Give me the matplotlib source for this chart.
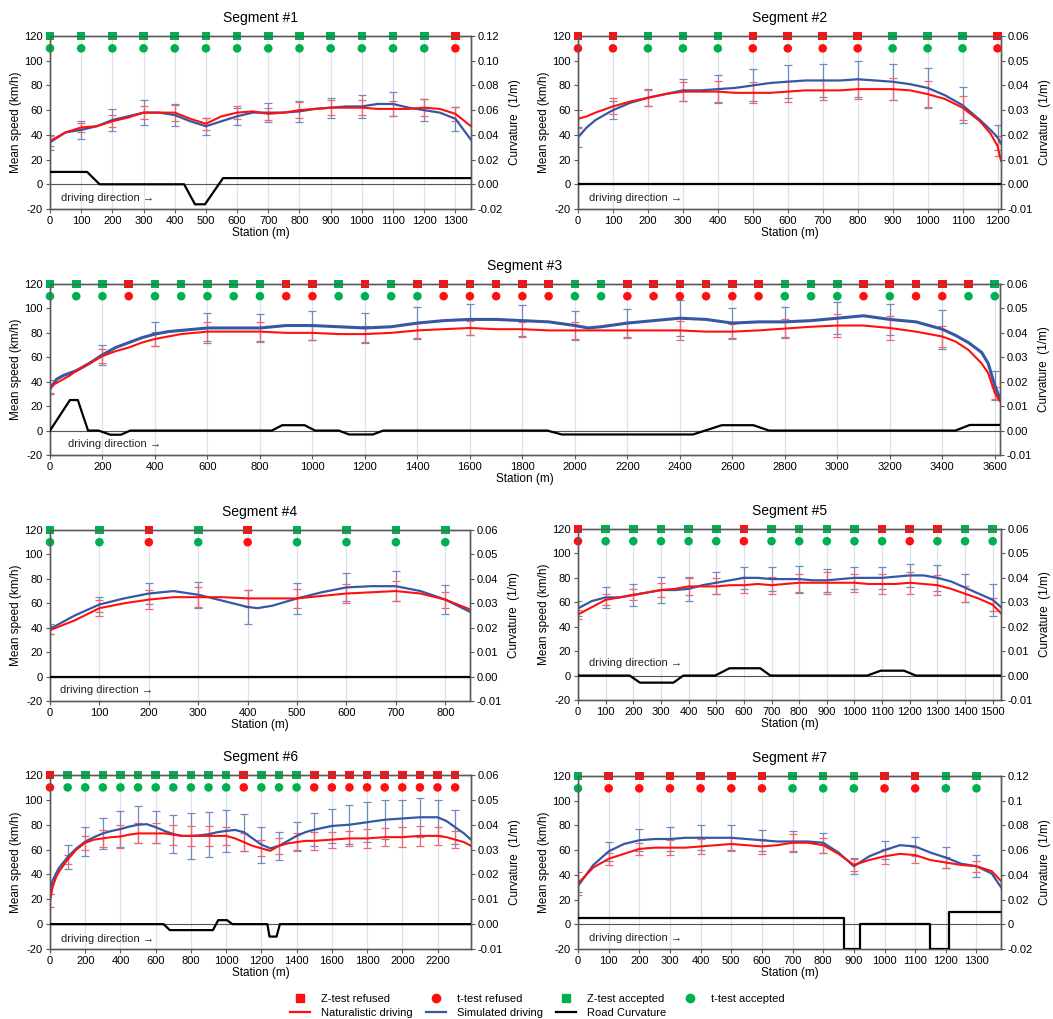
import numpy as np
import matplotlib
matplotlib.use('Agg')
import matplotlib.pyplot as plt
from matplotlib.lines import Line2D

plt.rcParams['font.family'] = ['Liberation Sans', 'DejaVu Sans']
plt.rcParams['axes.unicode_minus'] = False

# ---------------- data ----------------
# Segment 1
seg1_x = list(range(0, 1351, 50))
seg1_nat = [35, 42, 46, 47, 51, 54, 58, 58, 58, 53, 49, 55, 58, 59, 57, 58, 60, 61, 62, 62, 62, 61, 61, 61, 62, 61, 57, 47]
seg1_sim = [34, 42, 44, 47, 52, 55, 58, 58, 56, 51, 47, 51, 55, 58, 58, 58, 59, 61, 62, 63, 63, 65, 65, 62, 60, 58, 53, 36]
seg1_nat_sd = [4, 4, 5, 5.5, 6.5, 5, 5, 5, 6.5, 6, 6, 6, 7, 5.5]
seg1_sim_sd = [6, 7.5, 9, 10, 9, 7, 7, 7.5, 8.5, 8, 9, 9.5, 9, 9.5]
seg1_z = "GGGGGGGGGGGGGR"
seg1_t = "GGGGGGGGGGGGGR"
seg1_cx = [0, 119, 159, 430, 465, 497, 555, 1350]
seg1_cv = [0.01, 0.01, 0, 0, -0.0162, -0.0162, 0.005, 0.005]

# Segment 2
seg2_x = [0, 25, 50, 100, 150, 200, 250, 300, 350, 400, 450, 500, 550, 600, 650, 700, 750, 800, 850, 900, 950, 1000, 1050, 1100, 1150, 1180, 1200, 1210]
seg2_nat = [53, 55, 58, 63, 67, 70, 73, 75, 75, 75, 74, 74, 74, 75, 76, 76, 76, 77, 77, 77, 76, 73, 69, 62, 51, 41, 31, 19]
seg2_sim = [38, 46, 52, 60, 66, 70, 73, 76, 76, 77, 78, 80, 82, 83, 84, 84, 84, 85, 84, 83, 81, 78, 72, 64, 52, 44, 38, 33]
seg2_nat_sd = [7.5, 6.5, 6.5, 8, 8.5, 8.5, 8.5, 8, 8, 8.8, 10.5, 9.7, 8]
seg2_sim_sd = [8, 7, 7, 9, 11.5, 13, 13.5, 13.5, 14.5, 14.4, 16, 14.5, 10]
seg2_z = "RRGGGRRRRGGGR"
seg2_t = "RRGGGRRRRGGGR"
seg2_cx = [0, 1210]
seg2_cv = [0, 0]

# Segment 3
seg3_x = [0, 25, 50, 75, 100, 150, 200, 250, 300, 350, 400, 450, 500,
          600, 700, 800, 900, 1000, 1100, 1200, 1300, 1400, 1500, 1600, 1700, 1800, 1900, 2000,
          2050, 2100, 2200, 2300, 2400, 2500, 2600, 2700, 2800, 2900, 3000, 3100, 3200, 3300, 3400,
          3450, 3500, 3550, 3575, 3600, 3620]
seg3_nat = [36, 39, 42, 45, 49, 55, 61, 65, 68, 72, 75, 77, 79,
            81, 81, 81, 80, 80, 79, 79, 80, 82, 83, 84, 83, 83, 82, 82,
            82, 82, 82, 82, 82, 81, 81, 82, 83.5, 85, 86, 86, 84, 81, 77,
            73, 66, 55, 47, 31, 24]
seg3_sim = [34, 42, 45, 47, 49, 55, 62, 68, 72, 76, 79, 81, 82,
            84, 84, 84, 86, 86, 85, 84, 85, 88, 90, 91, 91, 90, 89, 86,
            84, 85, 88, 90, 92, 91, 88, 89, 89, 90, 92, 94, 91, 89, 83,
            78, 72, 64, 55, 37, 26]
seg3_nat_sd = [5, 5.5, 6, 7.8, 7.5, 6, 6.5, 6, 6, 6, 7, 6.5, 7.5, 6, 8, 9.5, 9.7, 8.5, 5]
seg3_sim_sd = [4, 8, 10, 12.3, 11.5, 11.5, 12.5, 13, 13, 12.5, 12, 11.5, 14.5, 12.5, 12, 13, 13, 16, 12]
seg3_z = "GGGRGGGGGRRGRGRRRRRRGGRRRRRRGGGRRRRRG"
seg3_t = "GGGRGGGGGRRGGGGRRRRRGGRRRRRRGGGRGRRGG"
seg3_cx = [0, 76, 106, 145, 185, 230, 270, 306, 845, 885, 970, 1010, 1100, 1140, 1230, 1270,
           1895, 1950, 2450, 2560, 2680, 2740, 3450, 3505, 3620]
seg3_cv = [0, 0.0125, 0.0125, 0, 0, -0.0017, -0.0017, 0, 0, 0.0022, 0.0022, 0, 0, -0.0016, -0.0016, 0,
           0, -0.0016, -0.0016, 0.0022, 0.0022, 0, 0, 0.0023, 0.0023]

# Segment 4
seg4_x = [0, 50, 100, 150, 200, 250, 300, 350, 400, 420, 450, 500, 550, 600, 650, 700, 750, 800, 850]
seg4_nat = [38, 46, 56, 60, 63, 65, 65, 65, 64, 64, 64, 64, 66, 68, 69, 70, 68, 63, 55]
seg4_sim = [39, 50, 59, 64, 68, 70, 67, 62, 57, 56, 58, 64, 69, 73, 74, 74, 70, 63, 53]
seg4_nat_sd = [3, 6.5, 8, 8, 7, 7.5, 7.5, 8, 6.5]
seg4_sim_sd = [4, 6.5, 8.5, 10.5, 14, 12.5, 11.5, 12.5, 12]
seg4_z = "GGRGRGGGG"
seg4_t = "GGRGRGGGG"
seg4_cx = [0, 850]
seg4_cv = [0, 0]

# Segment 5
seg5_x = list(range(0, 1501, 50)) + [1530]
seg5_nat = [50, 56, 62, 64, 66, 68, 70, 71, 73, 73, 73, 74, 74, 75, 74, 75, 76, 76, 76, 76, 76, 75, 75, 75, 76, 75, 74, 71, 67, 63, 58, 51]
seg5_sim = [55, 61, 64, 64, 66, 68, 70, 70, 71, 74, 76, 78, 80, 80, 79, 79, 79, 78, 78, 79, 80, 80, 80, 81, 82, 82, 80, 77, 72, 67, 62, 56]
seg5_nat_sd = [4, 4.5, 4.5, 6, 7, 6.5, 6.5, 7, 7.5, 9, 7.5, 8, 9, 8, 6.5, 5.5]
seg5_sim_sd = [6, 8.5, 9, 10.5, 10, 9, 9, 9.5, 11, 9.5, 9, 9, 9.5, 10.5, 11.5, 13]
seg5_z = "RGGGGGRGGGGRRRGG"
seg5_t = "RGGGGGRGGGGGRGGG"
seg5_cx = [0, 187, 224, 345, 381, 496, 548, 659, 696, 1046, 1095, 1179, 1222, 1530]
seg5_cv = [0, 0, -0.0029, -0.0029, 0, 0, 0.003, 0.003, 0, 0, 0.002, 0.002, 0, 0]

# Segment 6
seg6_x = [0, 15, 35] + list(range(50, 1501, 50)) + list(range(1600, 2201, 100)) + [2250, 2300, 2350, 2390]
seg6_nat = [19, 30, 38,
            42, 52, 60, 65.5, 68, 69, 70, 70.5, 72, 73, 73, 73, 73, 72, 71, 71, 71, 71, 71, 71, 69, 66, 63, 61, 59, 63, 65, 66, 67, 67,
            68, 69, 69, 70, 70, 71, 71,
            70, 68, 66, 63]
seg6_sim = [28, 35, 41,
            45, 54, 61, 66.4, 70, 73, 75, 76.5, 78.5, 80, 80.4, 78, 75, 72.5, 71, 71, 71.5, 72.3, 74, 75, 75.8, 74, 69, 64, 61, 63, 67, 71, 74, 76,
            79, 80, 82, 84, 85, 86, 86,
            83, 78, 73, 68]
seg6_nat_sd = [5, 3.3, 5.5, 7, 9, 8, 8, 8, 8, 8, 7, 7, 6.5, 6.5, 7, 7.5, 6.5, 6, 7.5, 7.5, 8, 8, 7, 7]
seg6_sim_sd = [4, 10, 11.5, 12.7, 14.4, 14.8, 13, 15, 18.4, 18, 17, 15, 14.5, 11.5, 11, 13.5, 14, 15.5, 16, 15.5, 15, 15.5, 14, 13.5]
seg6_z = "RGGGGGGGGGGRGGGRRRRRRRRR"
seg6_t = "RGGGGGGGGGGRGGGRRRRRRRRR"
seg6_cx = [0, 645, 680, 925, 955, 1005, 1035, 1234, 1246, 1286, 1305, 2390]
seg6_cv = [0, 0, -0.0024, -0.0024, 0.0016, 0.0016, 0, 0, -0.005, -0.005, 0, 0]

# Segment 7
seg7_x = list(range(0, 1351, 50)) + [1380]
seg7_nat = [33, 46, 53, 57, 61, 62, 62, 62, 63, 64, 65, 64, 63, 64, 66, 66, 64, 57, 48, 52, 55, 57, 56, 52, 50, 48, 47, 43, 35]
seg7_sim = [31, 48, 59, 65, 68, 69, 69, 70, 70, 70, 70, 69, 68, 67, 67, 67, 66, 58, 47, 55, 60, 64, 63, 58, 54, 49, 47, 41, 30]
seg7_nat_sd = [9.5, 5, 5, 6, 6, 6, 6, 7, 6, 4.5, 6, 6.5, 4.5, 4.5]
seg7_sim_sd = [5, 7.5, 9, 10, 10, 10, 8.5, 8.5, 8, 6.5, 7, 8, 8.5, 9]
seg7_z = "GRRRRRRGGGRRGG"
seg7_t = "GRRRRRRGGGRRGG"
seg7_cx = [0, 867, 867, 919, 919, 1148, 1148, 1210, 1210, 1376]
seg7_cv = [0.005, 0.005, -0.02, -0.02, 0, 0, -0.02, -0.02, 0.01, 0.01]

# right axis tick labels
curv_ticks_a = [-0.02, 0.0, 0.02, 0.04, 0.06, 0.08, 0.10, 0.12]
curv_labels_a = ["-0.02", "0.00", "0.02", "0.04", "0.06", "0.08", "0.10", "0.12"]
curv_ticks_b = [-0.01, 0.0, 0.01, 0.02, 0.03, 0.04, 0.05, 0.06]
curv_labels_b = ["-0.01", "0.00", "0.01", "0.02", "0.03", "0.04", "0.05", "0.06"]
curv_labels_c = ["-0.02", "0", "0.02", "0.04", "0.06", "0.08", "0.1", "0.12"]

# ---------------- figure ----------------
W, H = 1053, 1019
fig = plt.figure(figsize=(W / 100, H / 100), dpi=100)

RED = '#ff1010'
BLUE = '#3558a5'
GREEN = '#00b050'
RED_EB = '#ee6670'
BLUE_EB = '#7089bf'
SPINE = '#5a5a5a'


def add_axes_px(l, r, t, b):
    return fig.add_axes([l / W, 1 - b / H, (r - l) / W, (b - t) / H])


segments = [
    dict(title="Segment #1", box=(50, 471, 36, 209), xmax=1350, xt=100, x=seg1_x, nat=seg1_nat, sim=seg1_sim,
         nsd=seg1_nat_sd, ssd=seg1_sim_sd, eb=100, z=seg1_z, t=seg1_t, cx=seg1_cx, cv=seg1_cv,
         cl=(-0.02, 0.12), ct=curv_ticks_a, clab=curv_labels_a, txt=-11, lw3=1.6),
    dict(title="Segment #2", box=(578, 1001, 36, 209), xmax=1210, xt=100, x=seg2_x, nat=seg2_nat, sim=seg2_sim,
         nsd=seg2_nat_sd, ssd=seg2_sim_sd, eb=100, z=seg2_z, t=seg2_t, cx=seg2_cx, cv=seg2_cv,
         cl=(-0.01, 0.06), ct=curv_ticks_b, clab=curv_labels_b, txt=-11, lw3=1.6),
    dict(title="Segment #3", box=(50, 1000, 284, 455), xmax=3620, xt=200, x=seg3_x, nat=seg3_nat, sim=seg3_sim,
         nsd=seg3_nat_sd, ssd=seg3_sim_sd, eb=200, z=seg3_z, t=seg3_t, cx=seg3_cx, cv=seg3_cv,
         cl=(-0.01, 0.06), ct=curv_ticks_b, clab=curv_labels_b, txt=-11, lw3=2.2),
    dict(title="Segment #4", box=(50, 470, 530, 701), xmax=850, xt=100, x=seg4_x, nat=seg4_nat, sim=seg4_sim,
         nsd=seg4_nat_sd, ssd=seg4_sim_sd, eb=100, z=seg4_z, t=seg4_t, cx=seg4_cx, cv=seg4_cv,
         cl=(-0.01, 0.06), ct=curv_ticks_b, clab=curv_labels_b, txt=-11, lw3=1.6),
    dict(title="Segment #5", box=(578, 1001, 529, 700), xmax=1530, xt=100, x=seg5_x, nat=seg5_nat, sim=seg5_sim,
         nsd=seg5_nat_sd, ssd=seg5_sim_sd, eb=100, z=seg5_z, t=seg5_t, cx=seg5_cx, cv=seg5_cv,
         cl=(-0.01, 0.06), ct=curv_ticks_b, clab=curv_labels_b, txt=10, lw3=1.6),
    dict(title="Segment #6", box=(50, 471, 775, 949), xmax=2390, xt=200, x=seg6_x, nat=seg6_nat, sim=seg6_sim,
         nsd=seg6_nat_sd, ssd=seg6_sim_sd, eb=100, z=seg6_z, t=seg6_t, cx=seg6_cx, cv=seg6_cv,
         cl=(-0.01, 0.06), ct=curv_ticks_b, clab=curv_labels_b, txt=-12, lw3=1.6),
    dict(title="Segment #7", box=(578, 1001, 776, 949), xmax=1380, xt=100, x=seg7_x, nat=seg7_nat, sim=seg7_sim,
         nsd=seg7_nat_sd, ssd=seg7_sim_sd, eb=100, z=seg7_z, t=seg7_t, cx=seg7_cx, cv=seg7_cv,
         cl=(-0.02, 0.12), ct=curv_ticks_a, clab=curv_labels_c, txt=-11, lw3=1.6),
]

TICK_FS = 8
LAB_FS = 8.5

for s in segments:
    ax = add_axes_px(*s['box'])
    x = np.array(s['x'])
    nat = np.array(s['nat'], dtype=float)
    sim = np.array(s['sim'], dtype=float)

    ax.set_xlim(0, s['xmax'])
    ax.set_ylim(-20, 120)
    ax.set_yticks(range(-20, 121, 20))
    ax.set_xticks(range(0, s['xmax'] + 1, s['xt']))
    ax.xaxis.grid(True, color='#dde1e8', lw=0.9, zorder=0)
    ax.set_axisbelow(True)
    ax.axhline(0, color='#555555', lw=0.8, zorder=1)

    # error bars
    eb_st = np.arange(0, s['eb'] * len(s['nsd']), s['eb'])
    idx = [int(np.where(x == st)[0][0]) for st in eb_st]
    ax.errorbar(eb_st, sim[idx], yerr=s['ssd'], fmt='none', ecolor=BLUE_EB, elinewidth=0.9,
                capsize=3, capthick=0.9, zorder=2)
    ax.errorbar(eb_st, nat[idx], yerr=s['nsd'], fmt='none', ecolor=RED_EB, elinewidth=0.9,
                capsize=3, capthick=0.9, zorder=2)

    ax.plot(x, nat, color=RED, lw=1.5, zorder=4)
    ax.plot(x, sim, color=BLUE, lw=s['lw3'], zorder=3)

    # test markers
    mst = np.arange(0, 100 * len(s['z']), 100)
    zc = [GREEN if c == 'G' else RED for c in s['z']]
    tc = [GREEN if c == 'G' else RED for c in s['t']]
    ax.scatter(mst, np.full(len(mst), 120), marker='s', s=38, c=zc, linewidths=0, zorder=6, clip_on=False)
    ax.scatter(mst, np.full(len(mst), 110), marker='o', s=38, c=tc, linewidths=0, zorder=6, clip_on=False)

    ax.text(0.025 * s['xmax'] if s['xmax'] < 3000 else 70, s['txt'], "driving direction \u2192",
            fontsize=8, color='#222222', va='center', ha='left')

    for sp in ax.spines.values():
        sp.set_color(SPINE)
        sp.set_linewidth(1.0)
    ax.tick_params(labelsize=TICK_FS, length=3, color=SPINE, pad=2)
    ax.set_xlabel("Station (m)", fontsize=LAB_FS, labelpad=1)
    ax.set_ylabel("Mean speed (km/h)", fontsize=LAB_FS, labelpad=2)
    ax.set_title(s['title'], fontsize=10, pad=10)

    ax2 = ax.twinx()
    ax2.set_ylim(*s['cl'])
    ax2.set_yticks(s['ct'])
    ax2.set_yticklabels(s['clab'])
    ax2.plot(s['cx'], s['cv'], color='black', lw=1.6, zorder=5)
    ax2.set_xlim(0, s['xmax'])
    for sp in ax2.spines.values():
        sp.set_color(SPINE)
        sp.set_linewidth(1.0)
    ax2.tick_params(labelsize=TICK_FS, length=3, color=SPINE, pad=2)
    ax2.set_ylabel("Curvature  (1/m)", fontsize=LAB_FS, labelpad=4)

handles = [
    Line2D([], [], color=RED, marker='s', ls='none', markersize=6, label='Z-test refused'),
    Line2D([], [], color=RED, lw=1.6, label='Naturalistic driving'),
    Line2D([], [], color=RED, marker='o', ls='none', markersize=6, label='t-test refused'),
    Line2D([], [], color=BLUE, lw=1.6, label='Simulated driving'),
    Line2D([], [], color=GREEN, marker='s', ls='none', markersize=6, label='Z-test accepted'),
    Line2D([], [], color='black', lw=1.6, label='Road Curvature'),
    Line2D([], [], color=GREEN, marker='o', ls='none', markersize=6, label='t-test accepted'),
]
fig.legend(handles=handles, ncol=4, loc='lower center', bbox_to_anchor=(0.51, -0.009), frameon=False,
           fontsize=8, handlelength=1.8, columnspacing=1.2, handletextpad=1.0, labelspacing=0.4)

fig.savefig('out.png', dpi=100)
